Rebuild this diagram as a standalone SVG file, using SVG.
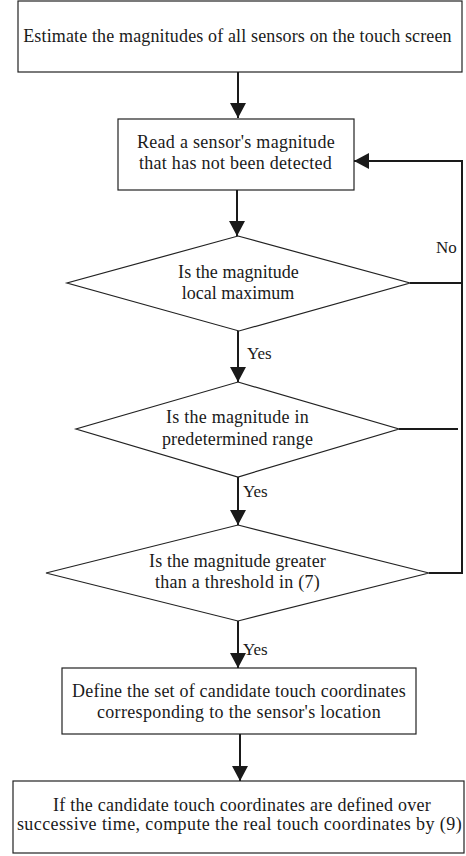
<svg xmlns="http://www.w3.org/2000/svg" width="466" height="856" viewBox="0 0 466 856">
<style>
.box{fill:#fff;stroke:#222;stroke-width:1.2}
.t{font-size:18px;fill:#1a1a1a;text-anchor:middle}
.l{font-size:17px;fill:#1a1a1a}
.c{fill:none;stroke:#1a1a1a;stroke-width:2}
</style>
<defs>
<marker id="ah" markerUnits="userSpaceOnUse" markerWidth="16" markerHeight="16" refX="15" refY="8" orient="auto">
<path d="M0,0 L15,8 L0,16 z" fill="#1a1a1a"/>
</marker>
</defs>
<rect width="466" height="856" fill="#fff"/>
<g font-family="Liberation Serif">
<g id="n1"><rect class="box" x="18" y="1" width="444" height="71"/>
<text class="t" x="237.5" y="42" letter-spacing="0.14">Estimate the magnitudes of all sensors on the touch screen</text></g>
<g id="n2"><rect class="box" x="118" y="119" width="236" height="71"/>
<text class="t" x="236" y="148" letter-spacing="0.29">Read a sensor's magnitude</text>
<text class="t" x="235.5" y="169" letter-spacing="0.27">that has not been detected</text></g>
<g id="n3"><polygon class="box" points="238,236 410,283 239,331 67,283"/>
<text class="t" x="238.5" y="278" letter-spacing="0.05">Is the magnitude</text>
<text class="t" x="238" y="299">local maximum</text></g>
<g id="n4"><polygon class="box" points="238,382 399,429 238,477 76,429"/>
<text class="t" x="237.5" y="423" letter-spacing="0.24">Is the magnitude in</text>
<text class="t" x="237.5" y="445" letter-spacing="0.14">predetermined range</text></g>
<g id="n5"><polygon class="box" points="238,525 429,573 238,621 46,573"/>
<text class="t" x="237.5" y="567" letter-spacing="0.1">Is the magnitude greater</text>
<text class="t" x="237.5" y="588" letter-spacing="0.26">than a threshold in (7)</text></g>
<g id="n6"><rect class="box" x="62" y="668" width="354" height="66"/>
<text class="t" x="239" y="697" letter-spacing="0.2">Define the set of candidate touch coordinates</text>
<text class="t" x="239" y="718" letter-spacing="0.34">corresponding to the sensor's location</text></g>
<g id="n7"><rect class="box" x="13" y="781" width="451" height="72"/>
<text class="t" x="242" y="811" letter-spacing="0.25">If the candidate touch coordinates are defined over</text>
<text class="t" x="239.5" y="830" letter-spacing="0.41">successive time, compute the real touch coordinates by (9)</text></g>
<g id="connectors">
<line class="c" x1="238" y1="72" x2="238" y2="118" marker-end="url(#ah)"/>
<line class="c" x1="237" y1="190" x2="237" y2="236" marker-end="url(#ah)"/>
<line class="c" x1="238" y1="331" x2="238" y2="382" marker-end="url(#ah)"/>
<line class="c" x1="238" y1="477" x2="238" y2="525" marker-end="url(#ah)"/>
<line class="c" x1="238" y1="621" x2="238" y2="668" marker-end="url(#ah)"/>
<line class="c" x1="240" y1="734" x2="240" y2="781" marker-end="url(#ah)"/>
<polyline class="c" points="429,573 462,573 462,161 354,161" marker-end="url(#ah)"/>
<line class="c" x1="410" y1="283" x2="462" y2="283"/>
<line class="c" x1="399" y1="429" x2="458" y2="429"/>
<text class="l" x="436" y="253">No</text>
<text class="l" x="247" y="359">Yes</text>
<text class="l" x="243" y="497">Yes</text>
<text class="l" x="243" y="655">Yes</text>
</g>
</g>
</svg>
